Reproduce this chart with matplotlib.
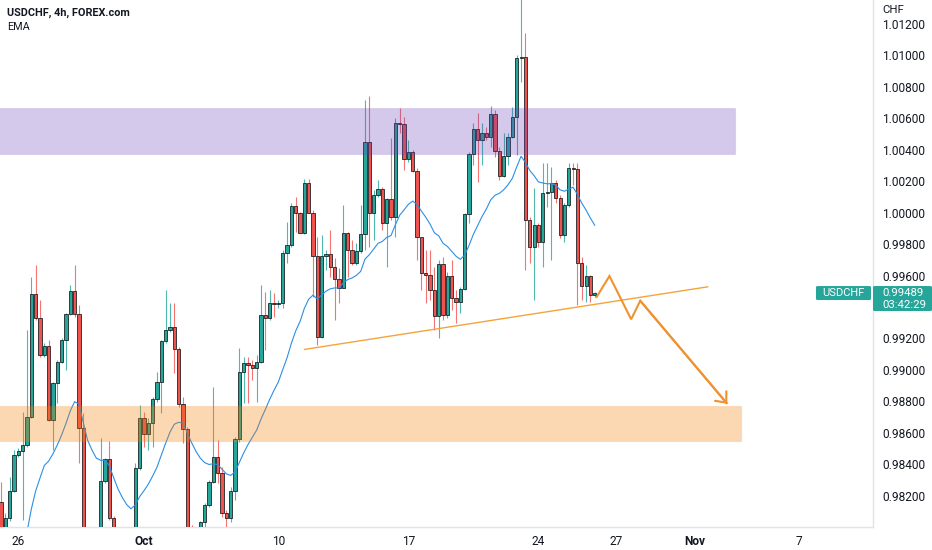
import numpy as np
import matplotlib
matplotlib.use("Agg")
import matplotlib.pyplot as plt
from matplotlib.patches import Rectangle, FancyBboxPatch

# ---------------- data (4h candles, USDCHF) ----------------
first_open = 0.98163
closes = [0.97930, 0.98057, 0.98233, 0.98460, 0.98487, 0.98521, 0.98703, 0.99483, 0.99329, 0.99096,
          0.99155, 0.98682, 0.98915, 0.99053, 0.99191, 0.99354, 0.99504, 0.99354, 0.98629, 0.97560,
          0.97480, 0.97900, 0.97950, 0.98295, 0.98432, 0.98057, 0.97600, 0.97560, 0.97670, 0.97720,
          0.97860, 0.98375, 0.98697, 0.98591, 0.98665, 0.98814, 0.98926, 0.99185, 0.99254, 0.99271,
          0.99134, 0.98782, 0.98623, 0.97990, 0.97950, 0.97960, 0.98032, 0.98142, 0.98286, 0.98449,
          0.98348, 0.98089, 0.98061, 0.98233, 0.98559, 0.98987, 0.99047, 0.99032, 0.99011, 0.99053,
          0.99350, 0.99329, 0.99424, 0.99418, 0.99424, 0.99742, 0.99795, 1.00043, 1.00000, 0.99873,
          1.00191, 1.00000, 0.99725, 0.99212, 0.99725, 0.99735, 0.99653, 0.99576, 0.99523, 0.99869,
          0.99763, 0.99682, 0.99759, 0.99865, 1.00452, 0.99996, 1.00110, 1.00149, 0.99932, 1.00085,
          0.99971, 1.00568, 1.00564, 1.00339, 1.00388, 1.00267, 0.99848, 0.99615, 0.99604, 0.99509,
          0.99343, 0.99674, 0.99350, 0.99598, 0.99456, 0.99430, 0.99515, 0.99990, 1.00373, 1.00532,
          1.00462, 1.00509, 1.00483, 1.00625, 1.00394, 1.00235, 1.00362, 1.00483, 1.00610, 1.00981,
          1.00992, 0.99953, 0.99784, 0.99922, 0.99816, 1.00123, 1.00134, 1.00191, 1.00091, 0.99858,
          1.00049, 1.00282, 1.00276, 0.99682, 0.99534, 0.99597, 0.99477, 0.99489]
highs = [0.98290, 0.98090, 0.98322, 0.98492, 0.98502, 0.98735, 0.99254, 0.99593, 0.99668, 0.99445,
         0.99170, 0.99191, 0.98926, 0.99064, 0.99202, 0.99360, 0.99540, 0.99668, 0.99413, 0.98725,
         0.97700, 0.97950, 0.97980, 0.98566, 0.98439, 0.98551, 0.98070, 0.97700, 0.97750, 0.97800,
         0.97900, 0.98407, 0.98778, 0.98735, 0.98693, 0.98831, 0.98990, 0.99191, 0.99509, 0.99424,
         0.99424, 0.99149, 0.98830, 0.98640, 0.98015, 0.97980, 0.98040, 0.98153, 0.98301, 0.98894,
         0.98555, 0.98386, 0.98110, 0.98259, 0.98576, 0.99138, 0.99085, 0.99085, 0.99064, 0.99096,
         0.99540, 0.99498, 0.99509, 0.99487, 0.99445, 0.99763, 0.99943, 1.00060, 1.00102, 1.00007,
         1.00212, 1.00212, 1.00017, 0.99848, 0.99858, 0.99763, 0.99890, 0.99710, 0.99646, 1.00049,
         0.99880, 0.99826, 0.99805, 1.00049, 1.00716, 1.00742, 1.00144, 1.00208, 1.00165, 1.00091,
         1.00473, 1.00600, 1.00663, 1.00610, 1.00462, 1.00399, 1.00282, 0.99848, 0.99763, 0.99763,
         0.99657, 0.99699, 0.99721, 0.99625, 0.99699, 0.99509, 0.99530, 0.99996, 1.00388, 1.00568,
         1.00632, 1.00568, 1.00547, 1.00678, 1.00653, 1.00420, 1.00504, 1.00504, 1.00674, 1.01002,
         1.01390, 1.01140, 0.99975, 1.00155, 0.99932, 1.00314, 1.00314, 1.00293, 1.00208, 1.00112,
         1.00059, 1.00314, 1.00314, 1.00314, 0.99720, 0.99667, 0.99604, 0.99498]
lows = [0.97880, 0.97900, 0.98042, 0.98227, 0.98449, 0.98047, 0.98513, 0.98693, 0.99318, 0.99085,
        0.99085, 0.98678, 0.98492, 0.98788, 0.99043, 0.99000, 0.99350, 0.99339, 0.98407, 0.97480,
        0.97350, 0.97420, 0.97700, 0.97900, 0.98280, 0.98047, 0.97550, 0.97450, 0.97500, 0.97600,
        0.97680, 0.97800, 0.98365, 0.98513, 0.98492, 0.98513, 0.98799, 0.98725, 0.99170, 0.99244,
        0.98979, 0.98767, 0.98534, 0.97950, 0.97900, 0.97880, 0.97940, 0.98004, 0.98131, 0.98280,
        0.98280, 0.98068, 0.98004, 0.98036, 0.98174, 0.98545, 0.98788, 0.98788, 0.98937, 0.98799,
        0.99043, 0.99127, 0.99318, 0.99339, 0.99392, 0.99392, 0.99678, 0.99784, 0.99880, 0.99869,
        0.99865, 0.99996, 0.99466, 0.99159, 0.99201, 0.99636, 0.99593, 0.99318, 0.99424, 0.99519,
        0.99593, 0.99668, 0.99668, 0.99742, 0.99763, 0.99784, 0.99826, 1.00102, 0.99890, 0.99657,
        0.99954, 0.99848, 1.00505, 1.00271, 1.00324, 1.00261, 0.99699, 0.99509, 0.99424, 0.99445,
        0.99254, 0.99201, 0.99318, 0.99328, 0.99381, 0.99297, 0.99360, 0.99509, 0.99932, 1.00303,
        1.00197, 1.00303, 1.00462, 1.00420, 1.00356, 1.00208, 1.00229, 1.00303, 1.00473, 1.00367,
        1.00833, 0.99636, 0.99678, 0.99445, 0.99784, 0.99657, 1.00038, 0.99699, 1.00059, 0.99837,
        0.99816, 1.00038, 1.00176, 0.99413, 0.99445, 0.99434, 0.99434, 0.99466]
first_bar = -1
ema_length = 20
ema_seed = 0.97543          # EMA value just before the first visible bar

tick_bars = [3, 32, 63, 93, 123, 141, 159, 183]
tick_labels = ["26", "Oct", "10", "17", "24", "27", "Nov", "7"]
bold_labels = {"Oct", "Nov"}

# 0.99400 is hidden behind the last-price label in the reference
price_ticks = [0.982, 0.984, 0.986, 0.988, 0.990, 0.992, 0.996,
               0.998, 1.000, 1.002, 1.004, 1.006, 1.008, 1.010, 1.012]

supply_zone = (1.00371, 1.00663)
supply_zone_end = 168.4
demand_zone = (0.98546, 0.98773)
demand_zone_end = 169.8

trend_bars = [68.9, 162.2]
trend_prices = [0.99130, 0.99529]

path_bars = [136.3, 139.4, 144.4, 146.5, 166.6]
path_prices = [0.99458, 0.99597, 0.99322, 0.99440, 0.98784]

last_price = closes[-1]
countdown = "03:42:29"

# ---------------- figure ----------------
W, H = 932, 550
plt.rcParams["font.family"] = ["Roboto", "DejaVu Sans"]
fig = plt.figure(figsize=(W / 100, H / 100), dpi=100)
fig.patch.set_facecolor("white")
ax = fig.add_axes([0, 23 / H, 873 / W, 527 / H])
ax.set_facecolor("white")

n = len(closes)
bars = np.arange(first_bar, first_bar + n)
c = np.array(closes)
o = np.concatenate([[first_open], c[:-1]])
h = np.array(highs)
l = np.array(lows)
up = c >= o

UP, DN = "#26a69a", "#ef5350"
col = np.where(up, UP, DN)

# wicks
ax.vlines(bars, l, h, colors=col, linewidth=0.8, alpha=0.8, zorder=3)
# bodies
body_lo = np.minimum(o, c)
body_h = np.maximum(np.abs(c - o), 0.00003)
ax.bar(bars, body_h, bottom=body_lo, width=0.72, color=col,
       edgecolor="#10161a", linewidth=0.55, zorder=4)

# EMA
ema = []
e = ema_seed
alpha = 2.0 / (ema_length + 1)
for v in closes:
    e = e + alpha * (v - e)
    ema.append(e)
ax.plot(bars, ema, color="#2b8fe6", linewidth=0.8, zorder=5)

# zones (drawn over candles, translucent)
xl = -1.22
ax.add_patch(Rectangle((xl - 1, supply_zone[0]), supply_zone_end - xl + 1,
                       supply_zone[1] - supply_zone[0], facecolor=(0.40, 0.23, 0.72, 0.28),
                       edgecolor=(0.40, 0.23, 0.72, 0.12), linewidth=0.8, zorder=6))
ax.add_patch(Rectangle((xl - 1, demand_zone[0]), demand_zone_end - xl + 1,
                       demand_zone[1] - demand_zone[0], facecolor=(0.96, 0.49, 0.0, 0.30),
                       edgecolor=(0.96, 0.49, 0.0, 0.15), linewidth=0.8, zorder=6))

# trend line and projected path
ax.plot(trend_bars, trend_prices, color="#f5a33a", linewidth=1.0, zorder=7,
        solid_capstyle="butt")
ax.plot(path_bars, path_prices, color="#ee9330", linewidth=1.5, zorder=7,
        solid_joinstyle="miter", solid_capstyle="butt")
ax.annotate("", xy=(path_bars[-1], path_prices[-1]),
            xytext=(path_bars[-2], path_prices[-2]),
            arrowprops=dict(arrowstyle="->,head_length=0.45,head_width=0.38",
                            color="#ee9330", lw=1.5, shrinkA=0, shrinkB=0,
                            mutation_scale=14),
            zorder=7)

ax.set_xlim(xl, 200.2)
ax.set_ylim(0.980016, 1.013519)

for s in ["top", "left"]:
    ax.spines[s].set_visible(False)
for s in ["right", "bottom"]:
    ax.spines[s].set_color("#e0e3eb")
    ax.spines[s].set_linewidth(1.0)

ax.yaxis.tick_right()
ax.set_yticks(price_ticks)
ax.set_yticklabels([f"{p:.5f}" for p in price_ticks])
ax.tick_params(axis="y", length=0, pad=6.5, labelsize=8.6, labelcolor="#131722")
ax.set_xticks(tick_bars)
ax.set_xticklabels(tick_labels)
ax.tick_params(axis="x", length=0, pad=6, labelsize=8.6, labelcolor="#131722")
for t in ax.get_xticklabels():
    if t.get_text() in bold_labels:
        t.set_fontweight("bold")

# header texts
fig.text(7 / W, 1 - 13 / H, "USDCHF, 4h, FOREX.com", fontsize=7.8, fontweight="bold",
         color="#131722", va="center", ha="left")
fig.text(7 / W, 1 - 27 / H, "EMA", fontsize=7.8, color="#131722", va="center", ha="left")
fig.text(882 / W, 1 - 10 / H, "CHF", fontsize=8.2, color="#131722", va="center", ha="left")

# last price labels
fig.canvas.draw()
y_disp = ax.transData.transform((0, last_price))[1]
yt = H - y_disp  # from top
teal = "#26a69a"
fig.add_artist(FancyBboxPatch((873 / W, 1 - (yt + 18) / H), 59 / W, 25 / H,
                              boxstyle="round,pad=0,rounding_size=0.002",
                              transform=fig.transFigure, facecolor=teal,
                              edgecolor="none", zorder=20))
fig.add_artist(FancyBboxPatch((816 / W, 1 - (yt + 7) / H), 55 / W, 14 / H,
                              boxstyle="round,pad=0,rounding_size=0.002",
                              transform=fig.transFigure, facecolor=teal,
                              edgecolor="none", zorder=20))
fig.text(882 / W, 1 - yt / H, f"{last_price:.5f}", fontsize=8.2, color="white",
         va="center", ha="left", zorder=21)
fig.text(882 / W, 1 - (yt + 12) / H, countdown, fontsize=8.2, color="white",
         va="center", ha="left", zorder=21)
fig.text(843.5 / W, 1 - yt / H, "USDCHF", fontsize=8.0, color="white",
         va="center", ha="center", zorder=21)

fig.savefig("out.png", dpi=100, facecolor="white")
